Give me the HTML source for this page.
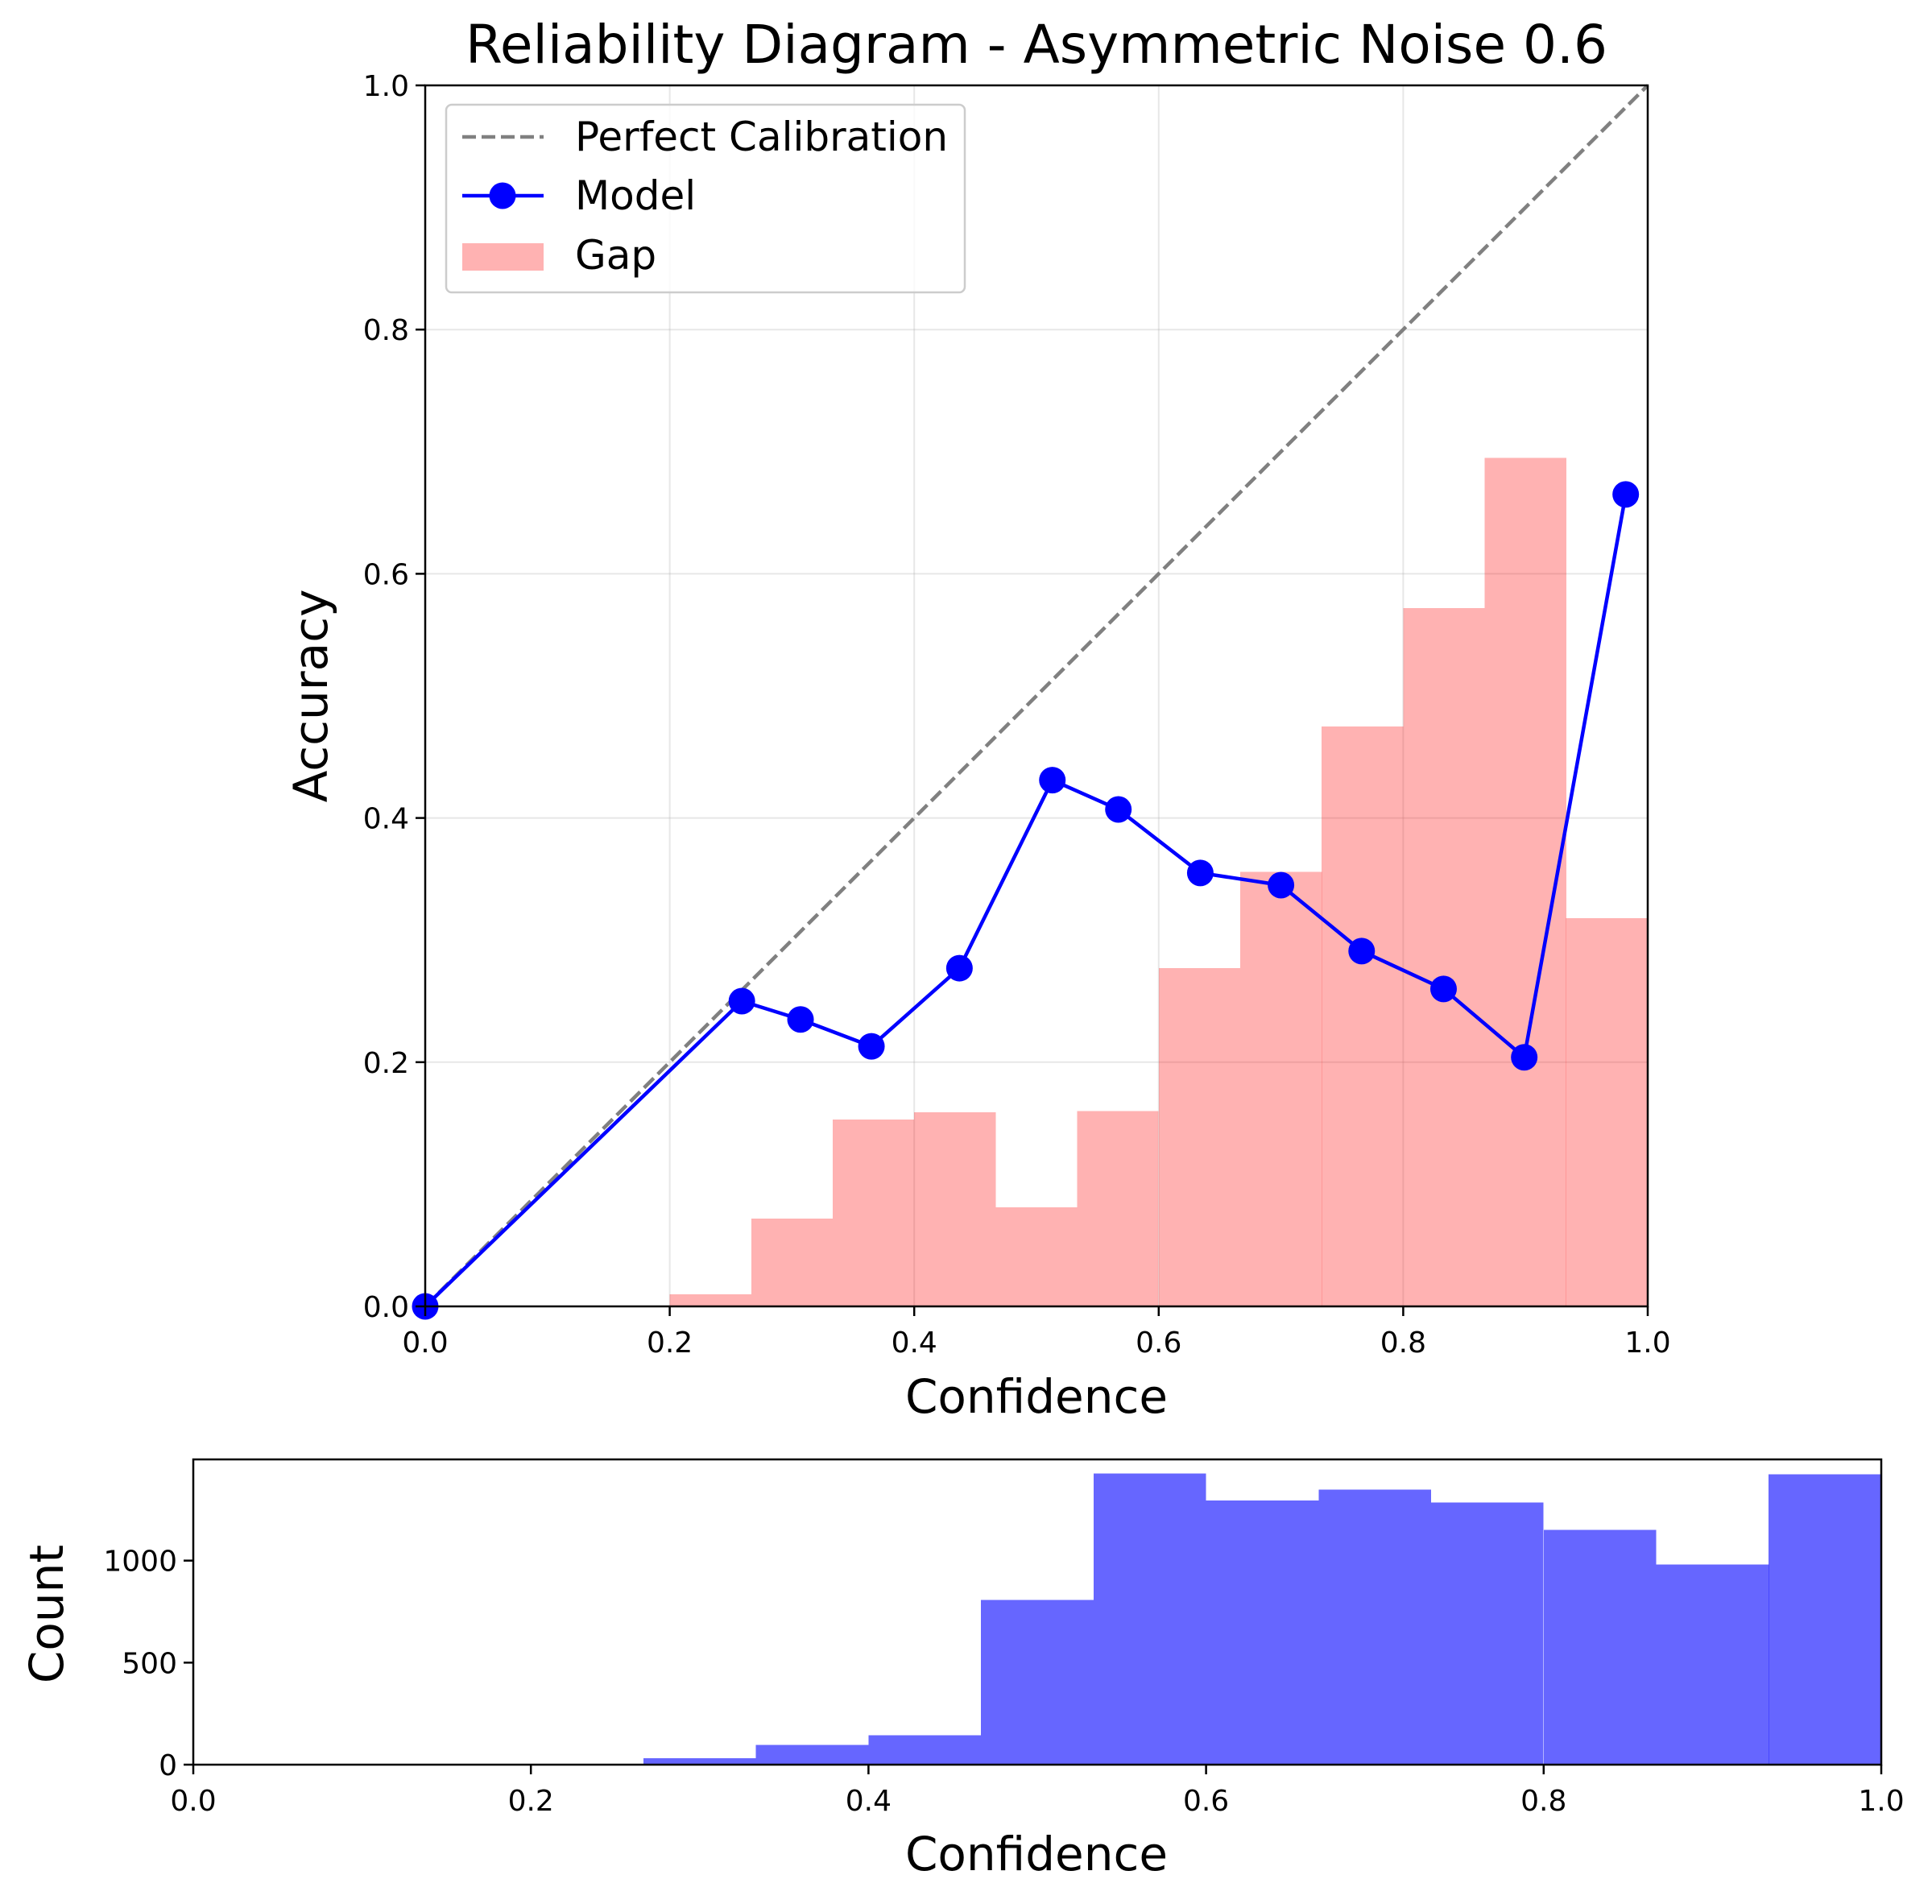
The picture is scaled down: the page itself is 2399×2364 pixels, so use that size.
<!DOCTYPE html>
<html><head><meta charset="utf-8"><style>
html,body{margin:0;padding:0;background:#fff;}
svg{display:block;font-family:"DejaVu Sans","Liberation Sans",sans-serif;}
</style></head><body>
<svg id="fig" width="2399" height="2364" viewBox="0 0 2399 2364" xmlns="http://www.w3.org/2000/svg">
<rect width="2399" height="2364" fill="#fff"/>
<g id="main"></g>
<g id="hist"></g>
</svg>
<script>
const gapBinStarts=[0.2,0.2667,0.3333,0.4,0.4667,0.5333,0.6,0.6667,0.7333,0.8,0.8667,0.9333];
const gapValues=[0.010,0.072,0.153,0.159,0.081,0.160,0.277,0.356,0.475,0.572,0.695,0.318];
const modelConf=[0,0.259,0.307,0.365,0.437,0.513,0.567,0.634,0.700,0.766,0.833,0.899,0.982];
const modelAcc=[0,0.250,0.235,0.213,0.277,0.431,0.407,0.355,0.345,0.291,0.260,0.204,0.665];
const histBinStarts=[0.2667,0.3333,0.4,0.4667,0.5333,0.6,0.6667,0.7333,0.8,0.8667,0.9333];
const histCounts=[32,96,144,807,1427,1295,1348,1284,1150,980,1422];
const mainTicks=[0,0.2,0.4,0.6,0.8,1.0];
const histYTicks=[0,500,1000];
const histYMax=1496;
const binW=1/15;

const NS="http://www.w3.org/2000/svg";
function mk(tag,attrs,parent,text){const e=document.createElementNS(NS,tag);for(const k in attrs)e.setAttribute(k,attrs[k]);if(text!==undefined)e.textContent=text;parent.appendChild(e);return e;}

const M={l:528,r:2046,t:106,b:1622};
const mx=v=>M.l+v*(M.r-M.l), my=v=>M.b-v*(M.b-M.t);
const g=document.getElementById('main');
mainTicks.forEach(t=>{
  const a=mk('line',{x1:mx(t),x2:mx(t),y1:M.t,y2:M.b,stroke:'#b0b0b0','stroke-opacity':0.3,'stroke-width':2},g);
  
  
  const b=mk('line',{x1:M.l,x2:M.r,y1:my(t),y2:my(t),stroke:'#b0b0b0','stroke-opacity':0.3,'stroke-width':2},g);
  
  
});
gapBinStarts.forEach((s,i)=>{
  const r=mk('rect',{x:mx(s),y:my(gapValues[i]),width:mx(s+binW)-mx(s),height:my(0)-my(gapValues[i]),fill:'#ff0000','fill-opacity':0.3,'shape-rendering':'crispEdges'},g);
  
  
});
const d=mk('line',{x1:mx(0),y1:my(0),x2:mx(1),y2:my(1),stroke:'#808080','stroke-width':4.5,'stroke-dasharray':'17 7'},g);


const pl=mk('polyline',{points:modelConf.map((c,i)=>mx(c)+','+my(modelAcc[i])).join(' '),fill:'none',stroke:'#0000ff','stroke-width':4.5,'stroke-linejoin':'round'},g);


modelConf.forEach((c,i)=>{
  const p=mk('circle',{cx:mx(c),cy:my(modelAcc[i]),r:16.5,fill:'#0000ff'},g);
  
  
});
const f=mk('rect',{x:M.l,y:M.t,width:M.r-M.l,height:M.b-M.t,fill:'none',stroke:'#000','stroke-width':2.5},g);


mainTicks.forEach(t=>{
  mk('line',{x1:mx(t),x2:mx(t),y1:M.b,y2:M.b+12,stroke:'#000','stroke-width':2.5},g);
  const xl=mk('text',{x:mx(t),y:M.b+57,'font-size':36,'text-anchor':'middle'},g,t.toFixed(1));
  
  
  mk('line',{x1:M.l-12,x2:M.l,y1:my(t),y2:my(t),stroke:'#000','stroke-width':2.5},g);
  const yl=mk('text',{x:M.l-20,y:my(t)+13,'font-size':36,'text-anchor':'end'},g,t.toFixed(1));
  
  
});
</script>
<script>
(function(){
const g=document.getElementById('main');
const add=(html)=>{g.insertAdjacentHTML('beforeend',html);};
add('<text x="1287" y="78" font-size="66" text-anchor="middle">Reliability Diagram - Asymmetric Noise 0.6</text>');
add('<text x="1287" y="1754" font-size="58" text-anchor="middle">Confidence</text>');
add('<text transform="translate(406,864) rotate(-90)" font-size="58" text-anchor="middle">Accuracy</text>');
add('<g><rect x="554" y="130" width="644" height="233" rx="7" fill="#fff" fill-opacity="0.8" stroke="#ccc" stroke-width="2.5"/>'+
'<line x1="574" y1="170" x2="675" y2="170" stroke="#808080" stroke-width="4.5" stroke-dasharray="17 7"/>'+
'<text x="714" y="187" font-size="50">Perfect Calibration</text>'+
'<line x1="574" y1="243" x2="675" y2="243" stroke="#0000ff" stroke-width="4.5"/><circle cx="624" cy="243" r="16.5" fill="#0000ff"/>'+
'<text x="714" y="260" font-size="50">Model</text>'+
'<rect x="574" y="302" width="101" height="34" fill="#ff0000" fill-opacity="0.3"/>'+
'<text x="714" y="334" font-size="50">Gap</text></g>');
})();
</script>
<script>
const H={l:240,r:2336,t:1812,b:2191};
const hx=v=>H.l+v*(H.r-H.l), hy=v=>H.b-v/histYMax*(H.b-H.t);
const h=document.getElementById('hist');
histBinStarts.forEach((s,i)=>{
  const r=mk('rect',{x:hx(s),y:hy(histCounts[i]),width:hx(s+binW)-hx(s),height:hy(0)-hy(histCounts[i]),fill:'#0000ff','fill-opacity':0.6,'shape-rendering':'crispEdges'},h);
  
  
});
const hf=mk('rect',{x:H.l,y:H.t,width:H.r-H.l,height:H.b-H.t,fill:'none',stroke:'#000','stroke-width':2.5},h);


mainTicks.forEach(t=>{
  mk('line',{x1:hx(t),x2:hx(t),y1:H.b,y2:H.b+12,stroke:'#000','stroke-width':2.5},h);
  const xl=mk('text',{x:hx(t),y:H.b+57,'font-size':36,'text-anchor':'middle'},h,t.toFixed(1));
  
  
});
histYTicks.forEach(t=>{
  mk('line',{x1:H.l-12,x2:H.l,y1:hy(t),y2:hy(t),stroke:'#000','stroke-width':2.5},h);
  const yl=mk('text',{x:H.l-20,y:hy(t)+13,'font-size':36,'text-anchor':'end'},h,String(t));
  
  
});
h.insertAdjacentHTML('beforeend','<text x="1287" y="2322" font-size="58" text-anchor="middle">Confidence</text><text transform="translate(78,2004) rotate(-90)" font-size="58" text-anchor="middle">Count</text>');
</script>
</body></html>
